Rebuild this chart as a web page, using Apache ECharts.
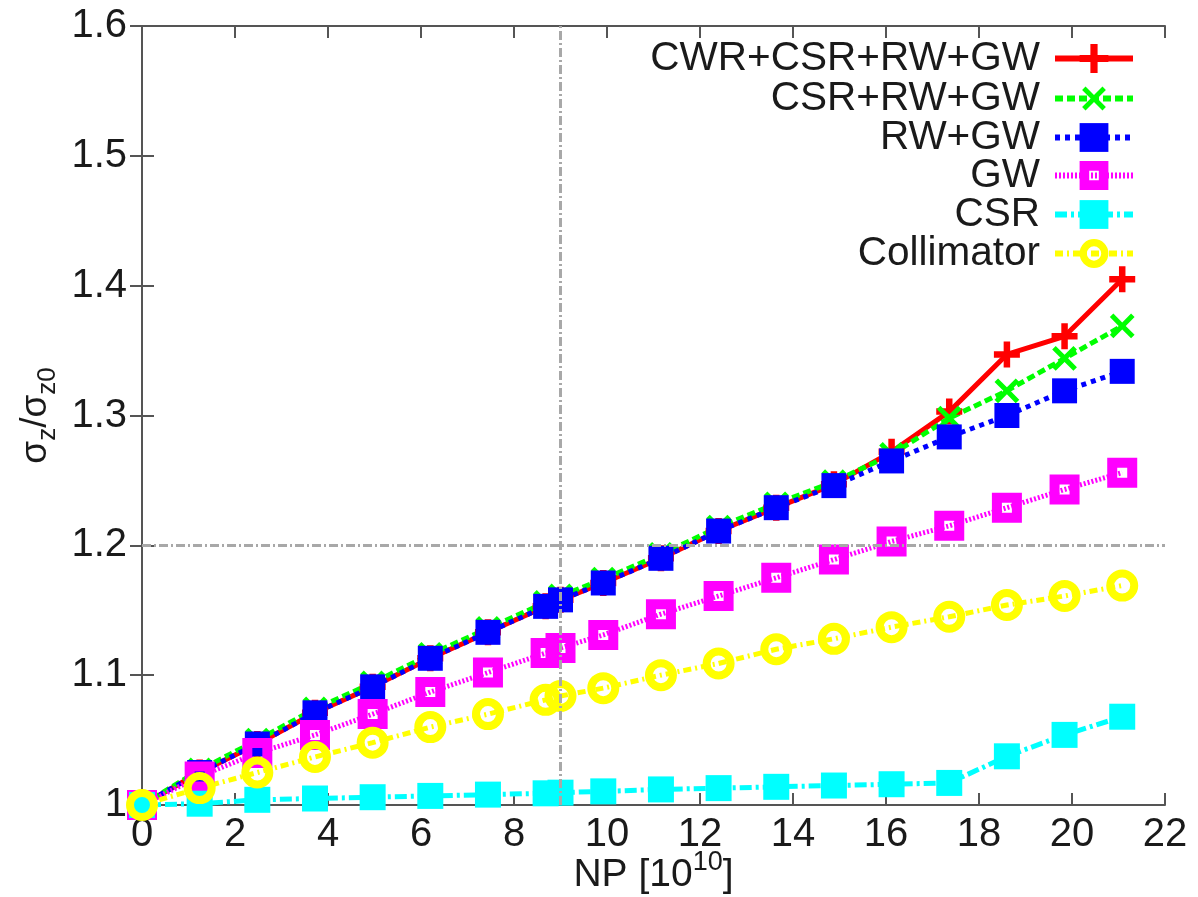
<!DOCTYPE html>
<html>
<head>
<meta charset="utf-8">
<script src="https://cdn.jsdelivr.net/npm/echarts@6/dist/echarts.min.js"></script>
<style>
  html, body { margin: 0; padding: 0; background: #fff; }
  #chart { width: 1198px; height: 897px; }
</style>
</head>
<body>
<div id="chart"></div>
<script>
// Bunch population NP in units of 1e10
const np = [0, 1.24, 2.48, 3.72, 4.96, 6.2, 7.44, 8.68, 9.0, 9.92, 11.16, 12.4, 13.64, 14.88, 16.12, 17.36, 18.6, 19.84, 21.08];

// Bunch lengthening sigma_z / sigma_z0 for each impedance combination
const cwrCsrRwGw = [1.0, 1.025, 1.047, 1.071, 1.091, 1.113, 1.133, 1.153, 1.158, 1.171, 1.190, 1.211, 1.229, 1.247, 1.272, 1.303, 1.347, 1.361, 1.405];
const csrRwGw    = [1.0, 1.027, 1.050, 1.074, 1.094, 1.116, 1.136, 1.156, 1.161, 1.174, 1.193, 1.214, 1.232, 1.249, 1.270, 1.298, 1.319, 1.344, 1.369];
const rwGw       = [1.0, 1.025, 1.047, 1.071, 1.091, 1.113, 1.133, 1.153, 1.158, 1.171, 1.190, 1.211, 1.229, 1.246, 1.265, 1.2835, 1.300, 1.319, 1.334];
const gw         = [1.0, 1.022, 1.040, 1.054, 1.070, 1.087, 1.102, 1.117, 1.121, 1.131, 1.147, 1.161, 1.175, 1.189, 1.203, 1.215, 1.229, 1.243, 1.256];
const csr        = [1.0, 1.001, 1.004, 1.005, 1.006, 1.007, 1.008, 1.009, 1.0095, 1.0105, 1.012, 1.013, 1.014, 1.015, 1.016, 1.017, 1.0375, 1.054, 1.068];
const collimator = [1.0, 1.013, 1.025, 1.037, 1.048, 1.060, 1.070, 1.081, 1.084, 1.090, 1.100, 1.109, 1.120, 1.128, 1.137, 1.145, 1.154, 1.161, 1.169];

const seriesNames = ['CWR+CSR+RW+GW', 'CSR+RW+GW', 'RW+GW', 'GW', 'CSR', 'Collimator'];

// Design point guide lines
const refNP = 9;
const refRatio = 1.2;

// Axis ranges and ticks
const xMin = 0, xMax = 22, xStep = 2;
const yMin = 1.0, yMax = 1.6, yStep = 0.1;

const FONT = '"Liberation Sans", Arial, Helvetica, sans-serif';
const AXIS_COLOR = '#555';
const TEXT_COLOR = '#1a1a1a';

const pair = ys => np.map((x, i) => [x, ys[i]]);

// Marker shapes
const PLUS = 'path://M9,0H15V9H24V15H15V24H9V15H0V9H9Z';
const CROSS = 'path://M10,0H14V10H24V14H14V24H10V14H0V10H10Z';
const OPEN_SQUARE = 'path://M0,0H30V30H0ZM10,10V20H20V10Z';
const OPEN_CIRCLE = 'path://M0,-16A16,16 0 1,1 0,16A16,16 0 1,1 0,-16ZM0,-8A8,8 0 1,0 0,8A8,8 0 1,0 0,-8Z';

function lineSeries(name, ys, color, dash, width, symbol, size, rotate) {
  return {
    name: name,
    type: 'line',
    data: pair(ys),
    symbol: symbol,
    symbolSize: size,
    symbolRotate: rotate || 0,
    showAllSymbol: true,
    lineStyle: { color: color, width: width, type: dash },
    itemStyle: { color: color, borderWidth: 0 },
    emphasis: { disabled: true },
    z: 3
  };
}

const series = [
  {
    type: 'line',
    data: [],
    silent: true,
    z: 1,
    markLine: {
      silent: true,
      symbol: 'none',
      label: { show: false },
      lineStyle: { color: '#a8a8a8', width: 3, type: [9, 3, 2, 3] },
      data: [{ xAxis: refNP }, { yAxis: refRatio }]
    }
  },
  lineSeries(seriesNames[0], cwrCsrRwGw, '#ff0000', 'solid', 5, PLUS, 26),
  lineSeries(seriesNames[1], csrRwGw, '#00ff00', [8, 4], 5, CROSS, 30, 45),
  lineSeries(seriesNames[2], rwGw, '#0000ff', [5, 5], 5, 'rect', 25),
  lineSeries(seriesNames[3], gw, '#ff00ff', [2, 2], 5, OPEN_SQUARE, 30),
  lineSeries(seriesNames[4], csr, '#00ffff', [12, 4, 3, 4], 5, 'rect', 26),
  lineSeries(seriesNames[5], collimator, '#ffff00', [8, 4, 2, 4], 5, OPEN_CIRCLE, 32)
];

// One legend block per entry so every row is right-aligned against the sample line
const legendRowCenters = [58, 98, 137, 175, 214, 253];
const legends = seriesNames.map((name, i) => ({
  data: [name],
  orient: 'vertical',
  align: 'right',
  right: 62,
  top: legendRowCenters[i] - 20,
  padding: 0,
  itemWidth: 78,
  itemHeight: 36,
  selectedMode: false,
  lineStyle: { width: 6 },
  textStyle: {
    fontFamily: FONT,
    fontSize: 40.5,
    lineHeight: 40,
    color: TEXT_COLOR,
    padding: [0, 10, 0, 0]
  }
}));

const axisLine = { show: true, lineStyle: { color: AXIS_COLOR, width: 2 } };
const axisTick = { show: true, inside: true, length: 12, lineStyle: { color: AXIS_COLOR, width: 2 } };

const option = {
  backgroundColor: '#ffffff',
  animation: false,
  grid: { left: 142, right: 33, top: 26, bottom: 92, containLabel: false, outerBoundsMode: 'none' },
  legend: legends,
  xAxis: [
    {
      type: 'value', min: xMin, max: xMax, interval: xStep, position: 'bottom',
      axisLine: axisLine, axisTick: axisTick,
      splitLine: { show: false },
      axisLabel: { fontFamily: FONT, fontSize: 40, color: TEXT_COLOR, margin: 10 },
      name: '{a|NP [10}{sup|10}{a|]}',
      nameLocation: 'middle',
      nameGap: 44,
      nameMoveOverlap: false,
      nameTextStyle: {
        rich: {
          a: { fontFamily: FONT, fontSize: 39, color: TEXT_COLOR, lineHeight: 46, verticalAlign: 'bottom' },
          sup: { fontFamily: FONT, fontSize: 27, color: TEXT_COLOR, lineHeight: 46, verticalAlign: 'top', padding: [0, 0, 14, 0] }
        }
      }
    },
    {
      type: 'value', min: xMin, max: xMax, interval: xStep, position: 'top',
      axisLine: axisLine, axisTick: axisTick,
      splitLine: { show: false }, axisLabel: { show: false }
    }
  ],
  yAxis: [
    {
      type: 'value', min: yMin, max: yMax, interval: yStep, position: 'left',
      axisLine: axisLine, axisTick: axisTick,
      splitLine: { show: false },
      axisLabel: {
        fontFamily: FONT, fontSize: 40, color: TEXT_COLOR, margin: 15,
        formatter: v => (Math.abs(v - 1) < 1e-9 ? '1' : v.toFixed(1))
      },
      name: '{a|σ}{s|z}{a|/σ}{s|z0}',
      nameLocation: 'middle',
      nameRotate: 90,
      nameGap: 81,
      nameMoveOverlap: false,
      nameTextStyle: {
        rich: {
          a: { fontFamily: FONT, fontSize: 37, color: TEXT_COLOR, lineHeight: 44, verticalAlign: 'top' },
          s: { fontFamily: FONT, fontSize: 26, color: TEXT_COLOR, lineHeight: 44, verticalAlign: 'bottom', padding: [14, 0, 0, 0] }
        }
      }
    },
    {
      type: 'value', min: yMin, max: yMax, interval: yStep, position: 'right',
      axisLine: axisLine, axisTick: axisTick,
      splitLine: { show: false }, axisLabel: { show: false }
    }
  ],
  series: series
};

const chart = echarts.init(document.getElementById('chart'), null, { renderer: 'canvas' });
chart.setOption(option);
</script>
</body>
</html>
